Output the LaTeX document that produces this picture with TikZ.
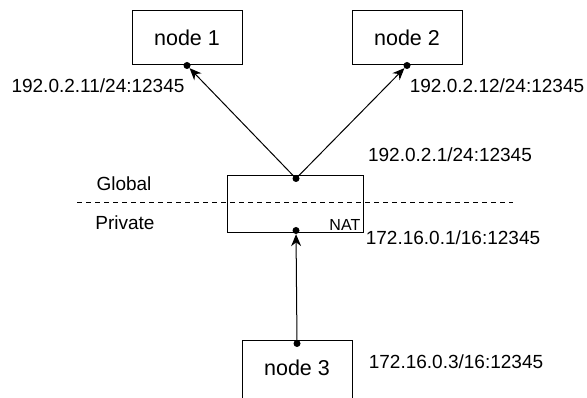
\documentclass[tikz,border=0pt]{standalone}
\usepackage{fontspec}
\setmainfont{Liberation Sans}
\usepackage{tikz}
\usetikzlibrary{arrows.meta}

\tikzset{
  host/.style={draw,line width=1pt,minimum width=110pt,minimum height=54pt,
    font=\fontsize{21.5}{23}\selectfont},
  addr/.style={font=\fontsize{19}{21}\selectfont,inner sep=0pt},
  link/.style={line width=1pt,-{Stealth[length=12pt,width=10pt]}},
  port/.style={circle,fill,inner sep=0pt,minimum size=7pt}
}

\begin{document}
\begin{tikzpicture}[x=1pt,y=-1pt]
\useasboundingbox (0,0) rectangle (587,398);
\node[host] (node1) at (187,38) {node 1};
\node[host] (node2) at (407,38) {node 2};
\node[host,minimum width=136pt,minimum height=57pt] (nat) at (295,204.5) {};
\node[host,minimum height=100pt,text depth=0pt] (node3) at (297,391) {};
\node[font=\fontsize{21.5}{23}\selectfont] (node3txt) at (297,368) {node 3};
\node[font=\fontsize{16}{18}\selectfont,anchor=south east,inner sep=3pt] (nattxt) at (nat.south east) {NAT};
\draw[dashed,line width=0.9pt,dash pattern=on 5pt off 4pt] (77,202) coordinate (zl) -- (513,202) coordinate (zr);
\node[addr] (global) at (124,184) {Global};
\node[addr] (private) at (125,223) {Private};
% ports
\node[port] (p1) at (node1.south) {};
\node[port] (p2) at (node2.south) {};
\node[port] (pg) at ([xshift=1pt,yshift=-3pt]nat.north) {};
\node[port] (pp) at ([xshift=1pt,yshift=3pt]nat.south) {};
\node[port] (p3) at ([yshift=-3pt]node3.north) {};
% links
\draw[link] (pg.center) -- (p1);
\draw[link] (pg.center) -- (p2);
\draw[link] (p3.center) -- (pp);
% addresses
\foreach \name/\pos/\txt in
{a1/{(98,86)}/{192.0.2.11/24:12345},
 a2/{(497,86)}/{192.0.2.12/24:12345},
 ag/{(450,155)}/{192.0.2.1/24:12345},
 ap/{(453,238)}/{172.16.0.1/16:12345},
 a3/{(456,362)}/{172.16.0.3/16:12345}}
  \node[addr] (\name) at \pos {\txt};
\end{tikzpicture}
\end{document}
